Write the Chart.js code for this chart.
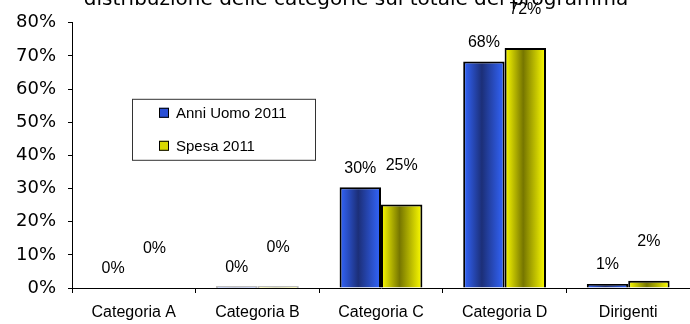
<!DOCTYPE html>
<html>
<head>
<meta charset="utf-8">
<script src="https://cdn.jsdelivr.net/npm/chart.js@4"></script>
<style>
  body { margin: 0; background: #fff; }
  #wrap { width: 690px; height: 324px; }
</style>
</head>
<body>
<div id="wrap"><canvas id="chart" width="690" height="324"></canvas></div>
<script>
// dati (percentuali)
const categorie = ['Categoria A', 'Categoria B', 'Categoria C', 'Categoria D', 'Dirigenti'];
const anniUomo2011 = [0, 0.45, 30.4, 68.3, 1.2];
const spesa2011 = [0, 0.45, 25.2, 72.4, 2.2];
const tickY = [0, 10, 20, 30, 40, 50, 60, 70, 80];
const titolo = 'distribuzione delle categorie sul totale del programma';

const QUOTA = 0.67;

// gradiente orizzontale per ogni barra (chiaro ai bordi, scuro al centro)
function gradiente(ctx, chiaro, scuro) {
  const chart = ctx.chart;
  const x = chart.scales.x;
  if (!x || ctx.dataIndex === undefined) return chiaro;
  const bw = (x.width / categorie.length) * QUOTA / 2;
  const c = x.getPixelForValue(ctx.dataIndex);
  const left = ctx.datasetIndex === 0 ? c - bw : c;
  if (!isFinite(left) || !isFinite(bw) || bw <= 0) return chiaro;
  const g = chart.ctx.createLinearGradient(left, 0, left + bw, 0);
  g.addColorStop(0, chiaro);
  g.addColorStop(0.45, scuro);
  g.addColorStop(1, chiaro);
  return g;
}

// etichette valori, titolo e legenda disegnati a mano
const decorazioni = {
  id: 'decorazioni',
  afterDatasetsDraw(chart) {
    const c = chart.ctx;
    const area = chart.chartArea;
    c.save();
    c.fillStyle = '#000';
    c.textAlign = 'center';
    c.textBaseline = 'middle';
    c.font = '16px "Liberation Sans", Arial, sans-serif';
    chart.data.datasets.forEach((ds, di) => {
      const meta = chart.getDatasetMeta(di);
      meta.data.forEach((bar, i) => {
        const off = di === 0 ? 19 : 39;
        const y = Math.max(bar.y - off, 10);
        c.fillText(Math.round(ds.data[i]) + '%', bar.x, y);
      });
    });

    // titolo (tagliato in alto come nell'originale)
    c.font = '20px "DejaVu Sans", Verdana, sans-serif';
    c.textBaseline = 'alphabetic';
    c.fillText(titolo, 356, 5);

    // legenda
    const lx = area.left + 60, ly = area.top + 76, lw = 183, lh = 61;
    c.fillStyle = '#fff';
    c.fillRect(lx, ly, lw, lh);
    c.strokeStyle = '#333';
    c.lineWidth = 1;
    c.strokeRect(lx + 0.5, ly + 0.5, lw, lh);
    const colori = [['#2a4fd6', '#1f2f80'], ['#d8d800', '#6e6e00']];
    c.font = '15px "Liberation Sans", Arial, sans-serif';
    c.textAlign = 'left';
    c.textBaseline = 'middle';
    chart.data.datasets.forEach((ds, di) => {
      const ey = ly + 14 + di * 33;
      c.fillStyle = colori[di][0];
      c.fillRect(lx + 27, ey - 5, 10, 10);
      c.strokeStyle = '#000';
      c.strokeRect(lx + 27.5, ey - 4.5, 9, 9);
      c.fillStyle = '#000';
      c.fillText(ds.label, lx + 44, ey + 1);
    });
    c.restore();
  }
};

new Chart(document.getElementById('chart'), {
  type: 'bar',
  data: {
    labels: categorie,
    datasets: [
      {
        label: 'Anni Uomo 2011',
        data: anniUomo2011,
        backgroundColor: ctx => gradiente(ctx, '#3366ff', '#1c2f78'),
        borderColor: '#000',
        borderWidth: 2,
        categoryPercentage: QUOTA,
        barPercentage: 1
      },
      {
        label: 'Spesa 2011',
        data: spesa2011,
        backgroundColor: ctx => gradiente(ctx, '#ffff00', '#767600'),
        borderColor: '#000',
        borderWidth: 2,
        categoryPercentage: QUOTA,
        barPercentage: 1
      }
    ]
  },
  options: {
    responsive: false,
    animation: false,
    devicePixelRatio: 1,
    layout: { padding: { top: 16, right: 0, left: 0, bottom: 0 } },
    plugins: { legend: { display: false }, title: { display: false }, tooltip: { enabled: false } },
    scales: {
      x: {
        grid: { offset: true, drawOnChartArea: false, tickLength: 5, color: '#000' },
        border: { color: '#000', width: 1 },
        ticks: {
          color: '#000',
          padding: 10,
          maxRotation: 0,
          font: { family: '"Liberation Sans", Arial, sans-serif', size: 16 }
        },
        afterFit(scale) { scale.height = 36; }
      },
      y: {
        min: 0,
        max: 80,
        afterBuildTicks(scale) { scale.ticks = tickY.map(v => ({ value: v })); },
        grid: { drawOnChartArea: false, tickLength: 4, color: '#000' },
        border: { color: '#000', width: 1 },
        ticks: {
          color: '#000',
          padding: 12,
          font: { family: '"DejaVu Sans", Verdana, sans-serif', size: 18 },
          callback: v => v + '%'
        },
        afterFit(scale) { scale.width = 72; }
      }
    }
  },
  plugins: [decorazioni]
});
</script>
</body>
</html>
